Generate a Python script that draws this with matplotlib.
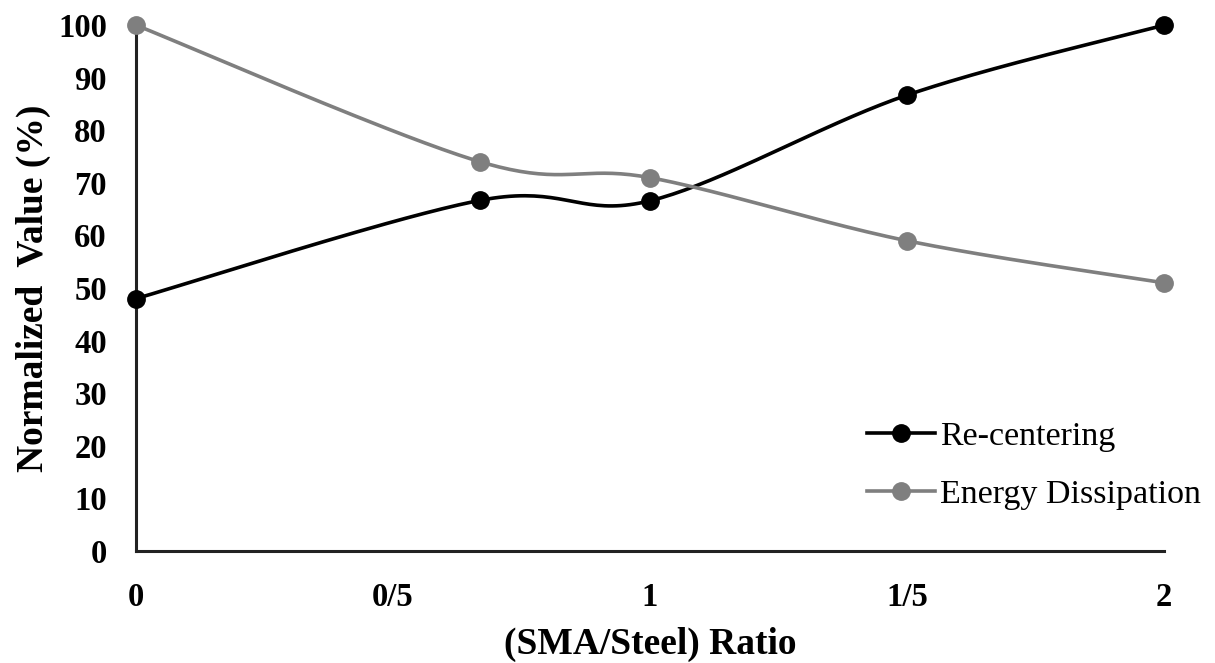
import numpy as np
import matplotlib.pyplot as plt

# data
ratio = [0, 0.67, 1, 1.5, 2]
tick_pos = [0, 0.5, 1, 1.5, 2]
tick_labels = ["0", "0/5", "1", "1/5", "2"]
recentering = [48, 66.7, 66.6, 86.7, 100]
energy = [100, 74, 71, 59, 51]

plt.rcParams['font.family'] = ['Liberation Serif', 'DejaVu Serif']


def smooth(xs, ys, sx=514.0, sy=5.26, n=40):
    # Excel-style smoothed line: cubic bezier with catmull-rom control points
    p = np.column_stack([np.array(xs) * sx, np.array(ys) * sy])
    out = [p[0]]
    for i in range(len(p) - 1):
        p0 = p[i - 1] if i > 0 else p[i]
        p1, p2 = p[i], p[i + 1]
        p3 = p[i + 2] if i + 2 < len(p) else p[i + 1]
        c1 = p1 + (p2 - p0) / 6
        c2 = p2 - (p3 - p1) / 6
        t = np.linspace(0, 1, n)[1:, None]
        seg = ((1 - t) ** 3) * p1 + 3 * ((1 - t) ** 2) * t * c1 + 3 * (1 - t) * t ** 2 * c2 + t ** 3 * p2
        out.extend(seg)
    out = np.array(out)
    return out[:, 0] / sx, out[:, 1] / sy


fig = plt.figure(figsize=(12.15, 6.63), dpi=100)
ax = fig.add_axes([0.112, 0.169, 0.846, 0.793])

for ys, col, lab in [(recentering, 'black', 'Re-centering'), (energy, '#7f7f7f', 'Energy Dissipation')]:
    sx_, sy_ = smooth(ratio, ys)
    ax.plot(sx_, sy_, color=col, lw=2.6, zorder=3, clip_on=False)
    ax.plot(ratio, ys, 'o', color=col, ms=12.5, zorder=4, clip_on=False)
    ax.plot([], [], '-o', color=col, lw=2.6, ms=12.5, label=lab)

ax.set_xlim(0, 2)
ax.set_ylim(0, 100)
ax.set_xticks(tick_pos)
ax.set_xticklabels(tick_labels)
ax.set_yticks(range(0, 101, 10))
ax.tick_params(length=0, labelsize=23.5)
ax.tick_params(axis='y', pad=21)
ax.tick_params(axis='x', pad=22)
for t in ax.get_xticklabels() + ax.get_yticklabels():
    t.set_fontweight('bold')

for s in ['top', 'right']:
    ax.spines[s].set_visible(False)
for s in ['left', 'bottom']:
    ax.spines[s].set_linewidth(2.2)
    ax.spines[s].set_color('#222222')

ax.set_xlabel("(SMA/Steel) Ratio", fontsize=27, fontweight='bold', labelpad=10)
ax.set_ylabel("Normalized  Value (%)", fontsize=27, fontweight='bold', labelpad=5)

ax.legend(loc='upper left', bbox_to_anchor=(867 / 1215, 1 - 421 / 663), bbox_transform=fig.transFigure,
          frameon=False, fontsize=24.5, borderpad=0, borderaxespad=0,
          handlelength=2.0, handletextpad=0.15, labelspacing=0.8)

fig.savefig('out.png', dpi=100)
